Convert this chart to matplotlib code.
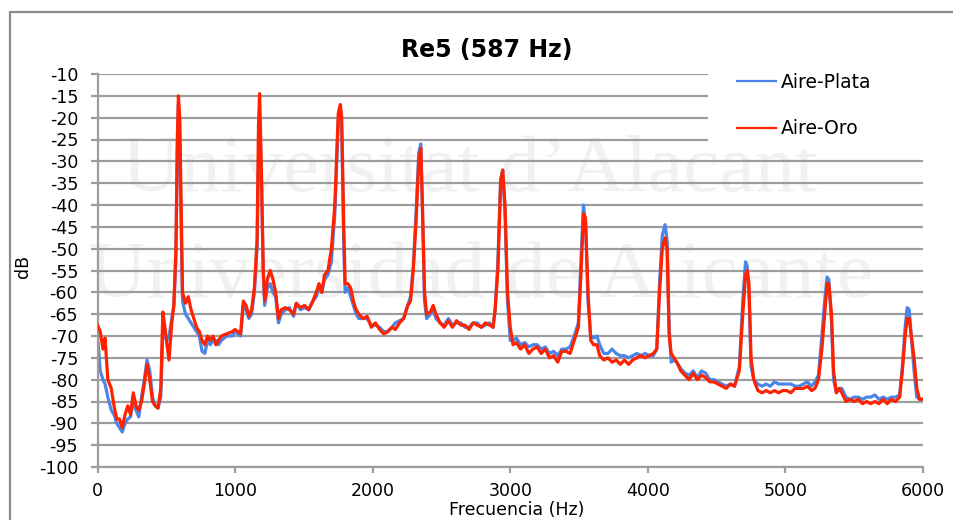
import matplotlib
matplotlib.use("Agg")
import matplotlib.pyplot as plt
from matplotlib.patches import Rectangle
from matplotlib.lines import Line2D

# frequency points (Hz) shared by both series
freq = [
    0, 20, 40, 55, 75, 100, 120, 140, 160, 180,
    200, 220, 240, 260, 280, 300, 320, 340, 360, 380,
    400, 420, 440, 460, 475, 490, 505, 520, 540, 555,
    570, 580, 588, 598, 608, 618, 640, 660, 680, 700,
    720, 740, 760, 780, 800, 820, 840, 860, 880, 900,
    940, 980, 1000, 1040, 1060, 1080, 1100, 1120, 1140, 1160,
    1170, 1178, 1190, 1205, 1215, 1235, 1255, 1275, 1295, 1315,
    1335, 1365, 1395, 1425, 1445, 1475, 1505, 1535, 1565, 1590,
    1610, 1630, 1650, 1675, 1700, 1725, 1750, 1765, 1775, 1790,
    1800, 1820, 1840, 1860, 1880, 1900, 1930, 1960, 1990, 2020,
    2050, 2080, 2110, 2140, 2165, 2195, 2225, 2255, 2275, 2295,
    2315, 2335, 2350, 2362, 2377, 2392, 2420, 2440, 2460, 2490,
    2520, 2550, 2580, 2610, 2640, 2670, 2700, 2730, 2760, 2790,
    2820, 2850, 2875, 2890, 2910, 2930, 2945, 2962, 2980, 3000,
    3020, 3045, 3075, 3105, 3135, 3165, 3195, 3225, 3255, 3285,
    3315, 3345, 3375, 3405, 3435, 3465, 3495, 3515, 3532, 3547,
    3565, 3585, 3605, 3630, 3650, 3680, 3710, 3740, 3770, 3800,
    3830, 3860, 3890, 3920, 3950, 3980, 4010, 4040, 4065, 4085,
    4105, 4125, 4140, 4155, 4170, 4190, 4210, 4240, 4270, 4300,
    4330, 4360, 4390, 4420, 4450, 4480, 4510, 4540, 4570, 4600,
    4630, 4665, 4690, 4710, 4722, 4735, 4750, 4770, 4800, 4830,
    4860, 4890, 4920, 4950, 4980, 5010, 5040, 5070, 5100, 5130,
    5160, 5190, 5215, 5240, 5265, 5285, 5303, 5315, 5335, 5350,
    5370, 5390, 5410, 5440, 5470, 5500, 5530, 5560, 5590, 5620,
    5650, 5680, 5710, 5740, 5770, 5800, 5830, 5850, 5870, 5885,
    5900, 5915, 5935, 5955, 5975, 6000,
]

aire_oro = [
    -67.5, -69, -73, -70.5, -80, -82, -86, -89, -89, -91,
    -88, -86, -88, -83, -86, -87, -85, -81, -76.5, -80,
    -85, -86, -86.5, -82, -64.5, -68, -72, -75.5, -67, -63,
    -50, -25, -15, -20, -40, -60, -62.5, -61, -64, -66,
    -68, -69, -71, -72, -70, -71, -70, -72, -71, -70,
    -69.5, -69, -68.5, -69.5, -62, -63, -65.5, -64, -59, -48,
    -22, -14.5, -30, -55, -62, -57, -55, -57, -60, -66,
    -64, -63.5, -64, -65, -62.5, -63.5, -63, -64, -62, -60,
    -58, -60, -56, -55, -50, -40, -19, -17, -20, -45,
    -58, -58, -59, -62, -64, -65, -66, -65.5, -68, -67,
    -68.5, -69.5, -69, -68, -68.5, -67, -66, -63, -62, -55,
    -44, -30, -27, -40, -60, -65, -64.5, -63, -65, -67,
    -68, -66.5, -68, -66.5, -67.5, -67.5, -68.5, -67, -67.5, -68,
    -67, -67.5, -68, -64, -55, -35, -32, -40, -60, -68,
    -72, -71.5, -73, -72, -74, -73, -72.5, -74, -73, -75,
    -74.5, -76, -73.5, -73.5, -74, -71, -68, -55, -42, -43,
    -60, -71, -72, -72, -74.5, -75.5, -75, -76, -75.5, -76.5,
    -75.5, -76.5, -75.5, -75, -74.5, -75, -74.5, -74, -73, -60,
    -50, -47.5, -50, -70, -74, -75, -76, -78, -79, -80,
    -78.5, -80, -79, -79.5, -80.5, -80.5, -81, -81.5, -82, -81,
    -81.5, -78, -65, -56, -55, -58, -75, -80, -82.5, -83,
    -82.5, -83, -82.5, -83, -82.5, -82.5, -83, -82, -82, -82,
    -81.5, -82.5, -82, -80, -73, -65, -58, -58, -65, -78,
    -83, -82, -83, -85, -84.5, -85, -84.5, -85.5, -85, -85.5,
    -85, -85.5, -84.5, -85.5, -84.5, -85, -84, -78, -70, -66,
    -66, -70, -75, -82, -84.5, -84.5,
]

aire_plata = [
    -70, -78, -80, -81, -84, -87, -88, -90, -91, -92,
    -90, -89, -88.5, -85, -87, -88.5, -84, -80, -75.5, -78,
    -84, -86, -86.5, -84, -69, -70, -71, -70, -66, -63,
    -52, -28, -17, -25, -45, -62, -65, -66, -67, -68,
    -69, -70, -73.5, -74, -71, -72, -71, -71, -72, -71,
    -70, -70, -69, -70, -63, -64, -66, -65, -60, -50,
    -30, -19, -32, -56, -63, -59, -58, -60, -61, -67,
    -65, -64, -63.5, -65.5, -62.5, -64, -63.5, -64, -62, -61,
    -59, -60, -57, -56, -53, -42, -21, -18, -23, -50,
    -60, -59, -61, -63, -65, -66, -66, -66, -67.5, -67.5,
    -68, -69, -69, -68, -67, -66.5, -66, -63, -61, -54,
    -42, -28, -26, -42, -62, -66, -65, -64, -66, -67,
    -67.5, -66, -67.5, -67, -67, -68, -68, -67, -67, -68,
    -67.5, -67, -68, -64, -53, -34, -32, -42, -62, -71,
    -71, -70.5, -72, -71.5, -72.5, -72, -72, -73, -72.5, -74,
    -73.5, -74.5, -73, -73, -72.5, -70, -67, -52, -40, -44,
    -62, -70, -70.5, -70, -72, -74, -74, -73, -74, -74.5,
    -74.5, -75, -74.5, -74, -74.5, -74, -74.5, -74.5, -73, -58,
    -47, -44.5, -48, -68, -76, -75.5, -76, -77.5, -78.5, -79,
    -78, -79.5, -78, -78.5, -80, -80, -80.5, -81, -81.5, -81,
    -81.5, -77, -62, -53, -54, -60, -77, -80, -81, -81.5,
    -81, -81.5, -80.5, -81, -81, -81, -81, -81.5, -81.5, -81,
    -80.5, -81.5, -80.5, -79, -70, -62, -56.5, -57, -67, -80,
    -83, -82, -82, -84, -84.5, -84, -84, -84.5, -84, -84,
    -83.5, -84.5, -84, -84.5, -84, -84, -83.5, -77, -68, -63.5,
    -64, -70, -78, -84, -84.5, -84.5,
]

y_ticks = list(range(-100, -5, 5))
x_ticks = [0, 1000, 2000, 3000, 4000, 5000, 6000]

W, H = 954, 520
fig = plt.figure(figsize=(W / 100, H / 100), dpi=100)
fig.patch.set_facecolor("white")

# outer chart border
fig.patches.append(Rectangle((10 / W, -0.1), 1.2, 1 - 12 / H + 0.1,
                             transform=fig.transFigure, fill=False,
                             edgecolor="#8c8c8c", linewidth=1.6))

# watermark, behind everything
wm = "#f1f1f1"
fig.text(470 / W, 1 - 172 / H, "Universitat d\u2019Alacant", color=wm,
         fontsize=58, family="Liberation Serif", ha="center", va="center", zorder=-5)
fig.text(481 / W, 1 - 278 / H, "Universidad de Alicante", color=wm,
         fontsize=58.5, family="Liberation Serif", ha="center", va="center", zorder=-5)

ax = fig.add_axes([97.5 / W, 1 - 467 / H, (923 - 97.5) / W, (467 - 74) / H])
ax.patch.set_alpha(0)

grey = "#9d9d9d"
ax.set_axisbelow(True)
ax.yaxis.grid(True, color=grey, linewidth=1.6)
ax.xaxis.grid(False)

ax.plot(freq, aire_plata, color="#4a86e8", linewidth=2.3, label="Aire-Plata",
        zorder=2, solid_joinstyle="round")
ax.plot(freq, aire_oro, color="#ff2200", linewidth=2.3, label="Aire-Oro",
        zorder=3, solid_joinstyle="round")

ax.set_xlim(0, 6000)
ax.set_ylim(-100, -10)
ax.set_xticks(x_ticks)
ax.set_yticks(y_ticks)
ax.set_xticklabels([str(v) for v in x_ticks])
ax.set_yticklabels([str(v) for v in y_ticks])

for s in ["top", "right"]:
    ax.spines[s].set_visible(False)
for s in ["left", "bottom"]:
    ax.spines[s].set_color(grey)
    ax.spines[s].set_linewidth(1.6)

ax.tick_params(axis="y", length=5, width=1.6, color=grey, pad=9,
               labelsize=12.5, labelcolor="black")
ax.tick_params(axis="x", length=4, width=1.6, color=grey, pad=7,
               labelsize=12.5, labelcolor="black")

fig.text(487 / W, 1 - 50 / H, "Re5 (587 Hz)", fontsize=17, fontweight="bold",
         ha="center", va="center")
ax.set_ylabel("dB", fontsize=12.5)
ax.yaxis.set_label_coords(-0.079, 0.51)
ax.set_xlabel("Frecuencia (Hz)", fontsize=12.5)
ax.xaxis.set_label_coords(0.508, -0.087)

# white area behind legend hides the top gridlines
ax.add_patch(Rectangle((708 / W, 1 - 150 / H), 250 / W, 95 / H,
                       transform=fig.transFigure, facecolor="white",
                       edgecolor="none", zorder=1, clip_on=False))

handles = [Line2D([], [], color="#4a86e8", linewidth=1.6),
           Line2D([], [], color="#ff2200", linewidth=1.6)]
ax.legend(handles, ["Aire-Plata", "Aire-Oro"], loc="upper left",
          bbox_to_anchor=(737 / W, 1 - 73 / H), bbox_transform=fig.transFigure,
          frameon=False, fontsize=13.5, handlelength=2.1, handletextpad=0.25,
          labelspacing=1.45, borderpad=0, borderaxespad=0)

fig.savefig("out.png", dpi=100)
